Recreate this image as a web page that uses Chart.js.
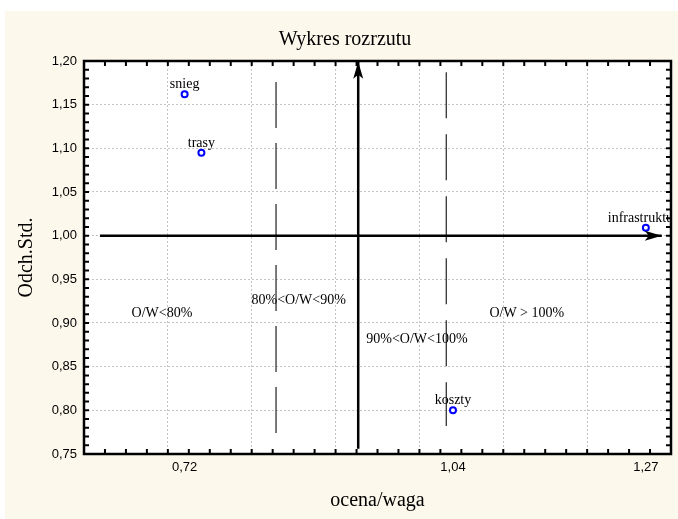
<!DOCTYPE html>
<html><head><meta charset="utf-8">
<script src="https://cdn.jsdelivr.net/npm/chart.js@4.4.0/dist/chart.umd.min.js"></script>
<style>html,body{margin:0;padding:0;background:#fff}canvas{display:block}</style>
</head><body>
<canvas id="c" width="678" height="519"></canvas>
<script>
// ---- data ----
const categories = ['snieg', 'trasy', 'infrastruktura', 'koszty'];
const ocenaWaga = [0.72, 0.74, 1.27, 1.04];
const odchStd = [1.162, 1.095, 1.009, 0.800];
const xTickLabels = [0.72, 1.04, 1.27];
const xGridValues = [0.6, 0.7, 0.8, 0.9, 1.0, 1.1, 1.2, 1.3];
const yTickValues = [0.75, 0.80, 0.85, 0.90, 0.95, 1.00, 1.05, 1.10, 1.15, 1.20];
const regionLabels = ['O/W<80%', '80%<O/W<90%', '90%<O/W<100%', 'O/W > 100%'];
const regionX = [0.693, 0.856, 0.997, 1.128];
const regionY = [0.911, 0.926, 0.881, 0.911];
const vArrowX = [0.927, 0.927], vArrowY = [0.756, 1.199];
const hArrowX = [0.619, 1.289], hArrowY = [1.0, 1.0];
const dash1X = [0.829, 0.829], dash1Y = [1.176, 0.772];
const dash2X = [1.032, 1.032], dash2Y = [1.187, 0.782];
const chartTitle = 'Wykres rozrzutu';

const pts = (xs, ys) => xs.map((x, i) => ({x, y: ys[i]}));
const fmt = v => v.toFixed(2).replace('.', ',');
const near = (arr, v) => arr.some(a => Math.abs(a - v) < 1e-6);

const SERIF = "'Liberation Serif', 'Times New Roman', serif";
const SANS = "'Liberation Sans', Arial, sans-serif";

const decor = {
  id: 'decor',
  beforeDraw(chart) {
    const {ctx, chartArea: a} = chart;
    ctx.save();
    ctx.fillStyle = '#ffffff';
    ctx.fillRect(0, 0, chart.width, chart.height);
    ctx.fillStyle = '#fdf8ec';
    ctx.fillRect(5, 11, chart.width - 5, chart.height - 11);
    ctx.fillStyle = '#ffffff';
    ctx.fillRect(a.left, a.top, a.right - a.left, a.bottom - a.top);
    ctx.restore();
  },
  afterDraw(chart) {
    const {ctx, chartArea: a, scales: {x, y}} = chart;
    ctx.save();
    // title
    ctx.fillStyle = '#000';
    ctx.font = '20px ' + SERIF;
    ctx.textAlign = 'center';
    ctx.textBaseline = 'middle';
    ctx.fillText(chartTitle, 345, 40);
    // region labels
    ctx.font = '14px ' + SERIF;
    regionLabels.forEach((t, i) => {
      ctx.fillText(t, x.getPixelForValue(regionX[i]), y.getPixelForValue(regionY[i]));
    });
    // point labels (clipped)
    ctx.save();
    ctx.beginPath();
    ctx.rect(a.left, a.top, a.right - a.left, a.bottom - a.top);
    ctx.clip();
    ctx.textBaseline = 'alphabetic';
    const meta = chart.getDatasetMeta(0);
    meta.data.forEach((el, i) => {
      ctx.fillText(categories[i], el.x, el.y - 6);
    });
    ctx.restore();
    // arrowheads
    ctx.fillStyle = '#000';
    const vTopX = x.getPixelForValue(vArrowX[1]), vTopY = y.getPixelForValue(vArrowY[1]);
    ctx.beginPath();
    ctx.moveTo(vTopX, vTopY);
    ctx.lineTo(vTopX - 5, vTopY + 17);
    ctx.lineTo(vTopX, vTopY + 13);
    ctx.lineTo(vTopX + 5, vTopY + 17);
    ctx.closePath();
    ctx.fill();
    const hTipX = x.getPixelForValue(hArrowX[1]), hTipY = y.getPixelForValue(hArrowY[1]);
    ctx.beginPath();
    ctx.moveTo(hTipX, hTipY);
    ctx.lineTo(hTipX - 17, hTipY - 5);
    ctx.lineTo(hTipX - 13, hTipY);
    ctx.lineTo(hTipX - 17, hTipY + 5);
    ctx.closePath();
    ctx.fill();
    // frame
    ctx.strokeStyle = '#000';
    ctx.lineWidth = 2.5;
    ctx.strokeRect(a.left, a.top, a.right - a.left, a.bottom - a.top);
    // minor ticks inward
    ctx.lineWidth = 2;
    ctx.beginPath();
    for (let i = 1; i < 28; i++) {
      const px = x.getPixelForValue(0.6 + i * 0.025);
      ctx.moveTo(px, a.top); ctx.lineTo(px, a.top + 5);
      ctx.moveTo(px, a.bottom); ctx.lineTo(px, a.bottom - 5);
    }
    for (let i = 1; i < 45; i++) {
      const py = y.getPixelForValue(0.75 + i * 0.01);
      ctx.moveTo(a.left, py); ctx.lineTo(a.left + 5, py);
      ctx.moveTo(a.right, py); ctx.lineTo(a.right - 5, py);
    }
    ctx.stroke();
    ctx.restore();
  }
};

new Chart(document.getElementById('c'), {
  type: 'scatter',
  data: {
    datasets: [
      {label: 'punkty', data: pts(ocenaWaga, odchStd), pointStyle: 'circle', pointRadius: 3,
       pointBorderWidth: 2, borderColor: '#0000ff', backgroundColor: '#ffffff', showLine: false},
      {label: 'pion', data: pts(vArrowX, vArrowY), showLine: true, borderColor: '#000', borderWidth: 2.5, pointRadius: 0},
      {label: 'poziom', data: pts(hArrowX, hArrowY), showLine: true, borderColor: '#000', borderWidth: 2.5, pointRadius: 0},
      {label: 'granica1', data: pts(dash1X, dash1Y), showLine: true, borderColor: '#222', borderWidth: 1.2, borderDash: [46, 15], pointRadius: 0},
      {label: 'granica2', data: pts(dash2X, dash2Y), showLine: true, borderColor: '#222', borderWidth: 1.2, borderDash: [46, 16], pointRadius: 0}
    ]
  },
  options: {
    responsive: false,
    animation: false,
    devicePixelRatio: 1,
    layout: {padding: {left: 0, top: 61, right: 7, bottom: 0}},
    plugins: {
      legend: {display: false},
      tooltip: {enabled: false},
      title: {display: false}
    },
    scales: {
      x: {
        type: 'linear', min: 0.6, max: 1.3,
        afterBuildTicks: s => { s.ticks = [...xGridValues, ...xTickLabels].sort((p, q) => p - q).map(v => ({value: v})); },
        afterFit: s => { s.height = 65; },
        ticks: {autoSkip: false, maxRotation: 0, padding: 6, color: '#000',
                font: {family: SANS, size: 13},
                callback: v => near(xTickLabels, v) ? fmt(v) : ''},
        grid: {drawTicks: false, lineWidth: 1,
               color: c => (c.tick && near(xGridValues.slice(1, -1), c.tick.value)) ? '#c4c4c4' : 'rgba(0,0,0,0)'},
        border: {display: false, dash: [2, 2]},
        title: {display: true, text: 'ocena/waga', color: '#000',
                font: {family: SERIF, size: 20}, padding: {top: 0, bottom: 6}}
      },
      y: {
        type: 'linear', min: 0.75, max: 1.2,
        afterBuildTicks: s => { s.ticks = yTickValues.map(v => ({value: v})); },
        afterFit: s => { s.width = 84; },
        ticks: {autoSkip: false, padding: 7, color: '#000',
                font: {family: SANS, size: 13},
                callback: v => fmt(v)},
        grid: {drawTicks: false, lineWidth: 1,
               color: c => (c.tick && c.tick.value > 0.76 && c.tick.value < 1.19) ? '#c4c4c4' : 'rgba(0,0,0,0)'},
        border: {display: false, dash: [2, 2]},
        title: {display: true, text: 'Odch.Std.', color: '#000',
                font: {family: SERIF, size: 20}, padding: {top: 15, bottom: 0}}
      }
    }
  },
  plugins: [decor]
});
</script>
</body></html>
